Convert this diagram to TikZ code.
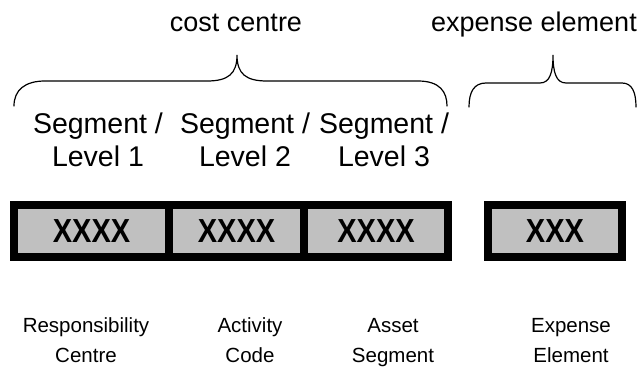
\documentclass[tikz,border=0pt]{standalone}
\usepackage{fontspec}
\setmainfont{Liberation Sans}
\tikzset{
	cell/.style={
		fill=cellgrey, inner sep=0pt, minimum height=44pt,
		font={\fontsize{29}{30}\selectfont\bfseries}
	},
	seglabel/.style={
		align=center, inner sep=0pt, anchor=base,
		font={\fontsize{28.5}{33}\selectfont}
	},
	codelabel/.style={
		align=center, inner sep=0pt, anchor=base,
		font={\fontsize{20.5}{30}\selectfont}
	},
	grouplabel/.style={
		inner sep=0pt, anchor=base, font={\fontsize{27}{30}\selectfont}
	},
	brace/.style={line width=1.2pt, line cap=round},
}
\definecolor{cellgrey}{HTML}{C0C0C0}

\begin{document}
\begin{tikzpicture}[x=1pt, y=-1pt]
\useasboundingbox (0,0) rectangle (639,369);
% frames
\fill (10,201) rectangle (452,261);
\fill (484,201) rectangle (626,261);
\node [cell, minimum width=147pt] (cellA) at (91.5,231) {\scalebox{1}[1.15]{XXXX}};
\node [cell, minimum width=127pt] (cellB) at (236.5,231) {\scalebox{1}[1.15]{XXXX}};
\node [cell, minimum width=136pt] (cellC) at (376,231) {\scalebox{1}[1.15]{XXXX}};
\node [cell, minimum width=126pt] (cellD) at (555,231) {\scalebox{1}[1.15]{XXX}};
% labels above (base = last line)
\node [seglabel] (segA) at (98,166) {Segment /\\Level 1};
\node [seglabel] (segB) at (245,166) {Segment /\\Level 2};
\node [seglabel] (segC) at (384,166) {Segment /\\Level 3};
\node [grouplabel] (cost) at (236,32) {cost centre};
\node [grouplabel] (expense) at (534,32) {expense element};
% braces
\coordinate (costL) at (14,106); \coordinate (costR) at (447,106);
\coordinate (costT) at (237,55);
\coordinate (expL) at (469,107); \coordinate (expR) at (636,107);
\coordinate (expT) at (553,55);
\draw [brace] (costL) .. controls (14,90) and (25,81) .. (45,81) -- (207,81)
	.. controls (228,81) and (237,74) .. (costT)
	.. controls (237,74) and (246,81) .. (267,81) -- (418,81)
	.. controls (440,81) and (447,92) .. (costR);
\draw [brace] (expL) .. controls (469,92) and (474,83) .. (486,83) -- (540,83)
	.. controls (550,83) and (553,72) .. (expT)
	.. controls (553,72) and (556,83) .. (566,83) -- (622,83)
	.. controls (632,83) and (636,92) .. (expR);
% labels below
\node [codelabel] (resp) at (86,362) {Responsibility\\Centre};
\node [codelabel] (act) at (250,362) {Activity\\Code};
\node [codelabel] (asset) at (393,362) {Asset\\Segment};
\node [codelabel] (elem) at (571,362) {Expense\\Element};
\end{tikzpicture}
\end{document}
